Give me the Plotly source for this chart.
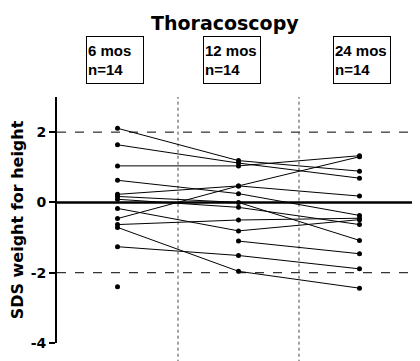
import plotly.graph_objects as go

# --- data ---
timepoints = ["6 mos", "12 mos", "24 mos"]
n_labels = ["n=14", "n=14", "n=14"]
title_text = "Thoracoscopy"
y_title = "SDS weight for height"
y_ticks = [2, 0, -2, -4]

# SDS values per subject at 6, 12, 24 months (None = missing)
subjects = [
    [2.11, 1.19, 0.89],
    [1.64, 1.12, 0.69],
    [1.04, 1.04, 1.33],
    [0.63, 0.25, -0.37],
    [0.23, 0.47, 0.18],
    [0.17, 0.00, -1.08],
    [0.09, -0.14, -0.63],
    [-0.17, -0.81, -0.49],
    [-0.46, 0.47, 1.30],
    [-0.63, -0.50, -0.45],
    [-0.71, -1.96, -2.44],
    [-1.26, -1.51, -1.89],
    [-2.40, None, None],
    [None, -1.10, -1.46],
]

x_pos = [0, 1, 2]

fig = go.Figure()
for s in subjects:
    fig.add_trace(go.Scatter(
        x=x_pos, y=s, mode="lines+markers",
        line=dict(color="black", width=1),
        marker=dict(color="black", size=5),
        connectgaps=False, showlegend=False, hoverinfo="skip"))

shapes = []
shapes.append(dict(type="line", xref="paper", yref="y", x0=0, x1=1, y0=0, y1=0,
                   line=dict(color="black", width=2.5), layer="below"))
for yv in [2, -2]:
    shapes.append(dict(type="line", xref="paper", yref="y", x0=0, x1=1, y0=yv, y1=yv,
                       line=dict(color="black", width=1, dash="dash"), layer="below"))
for xv in [0.5, 1.5]:
    shapes.append(dict(type="line", xref="x", yref="paper", x0=xv, x1=xv, y0=-0.08, y1=1,
                       line=dict(color="#444444", width=1, dash="dot"), layer="below"))

# page body has an 8px margin: figure spans 8..420 x 8..361
OFF = 8
annotations = []
box_x = [115, 232, 362]
for bx, tp, nl in zip(box_x, timepoints, n_labels):
    annotations.append(dict(
        xref="paper", yref="paper",
        x=(bx - 57) / 363, y=(343 - 60) / 246,
        xanchor="center", yanchor="middle",
        text=tp + "<br>" + nl, showarrow=False, align="left",
        width=54, height=44, borderpad=1, borderwidth=1, bordercolor="black",
        font=dict(family="Liberation Sans", size=15, color="black", weight="bold")))

# title as an annotation kept inside the figure
annotations.append(dict(
    xref="paper", yref="paper",
    x=(225 - 57) / 363, y=(343 - 10) / 246,
    xanchor="center", yanchor="top", showarrow=False,
    text="<b>" + title_text + "</b>",
    font=dict(family="DejaVu Sans", size=19, color="black")))

fig.update_layout(
    width=420 - OFF, height=361 - OFF,
    margin=dict(l=57 - OFF, r=0, t=97 - OFF, b=18, pad=0),
    paper_bgcolor="white", plot_bgcolor="white",
    xaxis=dict(range=[-0.5, 2.5], showgrid=False, zeroline=False, showline=False,
               showticklabels=False, ticks=""),
    yaxis=dict(range=[-4, 3], tickvals=y_ticks, ticktext=[str(v) for v in y_ticks],
               showgrid=False, zeroline=False, showline=True, linecolor="black", linewidth=2,
               ticks="outside", ticklen=6, tickwidth=2, tickcolor="black",
               tickfont=dict(family="DejaVu Sans", size=14, color="black", weight="bold"),
               title=dict(text=y_title, standoff=8,
                          font=dict(family="DejaVu Sans", size=16, color="black", weight="bold"))),
    shapes=shapes, annotations=annotations,
)

fig.write_html("out.html")
